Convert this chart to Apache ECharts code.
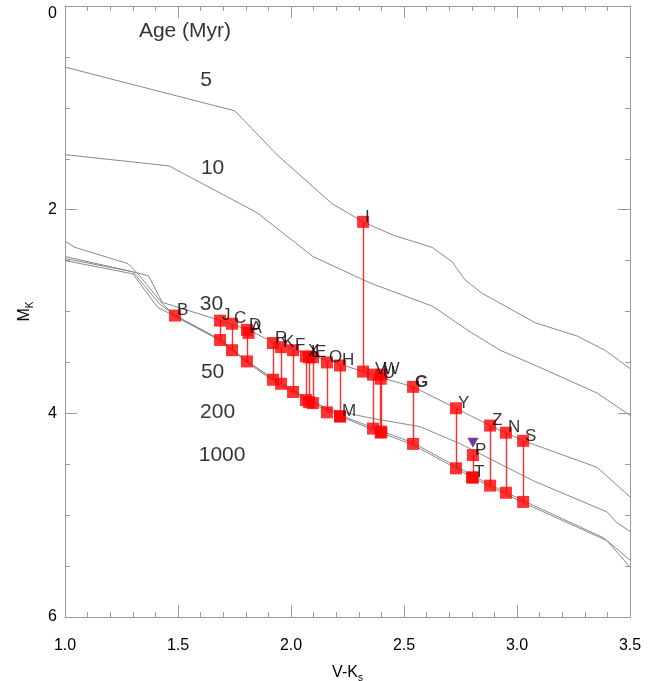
<!DOCTYPE html>
<html><head><meta charset="utf-8">
<script src="https://cdn.jsdelivr.net/npm/echarts@6/dist/echarts.min.js"></script>
<style>html,body{margin:0;padding:0;background:#fff}#c{width:658px;height:681px}</style>
</head><body><div id="c"></div>
<script>
// Isochrones (V-Ks, M_K)
const iso5 = [[1.000,0.60],[1.752,1.03],[1.938,1.46],[2.181,1.94],[2.319,2.12],[2.451,2.25],[2.624,2.37],[2.712,2.51],[2.770,2.69],[2.845,2.82],[3.080,3.11],[3.265,3.24],[3.389,3.38],[3.500,3.56]];
const iso10 = [[1.000,1.46],[1.460,1.57],[1.850,2.03],[2.097,2.46],[2.350,2.72],[2.628,2.95],[2.779,3.18],[2.925,3.38],[3.102,3.55],[3.354,3.80],[3.500,4.02]];
const iso30 = [[1.000,2.46],[1.300,2.61],[1.370,2.65],[1.430,2.91],[1.690,3.09],[1.810,3.18],[1.920,3.30],[2.100,3.44],[2.220,3.52],[2.320,3.59],[2.400,3.65],[2.540,3.74],[2.730,3.95],[2.880,4.12],[3.030,4.27],[3.354,4.53],[3.500,4.82]];
const iso50 = [[1.000,2.50],[1.300,2.63],[1.410,2.96],[1.490,3.05],[1.690,3.28],[1.800,3.48],[1.920,3.66],[2.100,3.89],[2.170,3.96],[2.360,4.05],[2.570,4.13],[2.750,4.30],[3.070,4.66],[3.400,4.97],[3.440,5.07],[3.500,5.16]];
const iso200 = [[1.000,2.48],[1.300,2.61],[1.420,2.93],[1.490,3.04],[1.690,3.28],[1.800,3.48],[1.920,3.66],[2.100,3.89],[2.220,4.02],[2.360,4.14],[2.540,4.29],[2.730,4.52],[2.880,4.70],[3.030,4.86],[3.381,5.22],[3.500,5.44]];
const iso1000 = [[1.000,2.31],[1.044,2.37],[1.279,2.53],[1.319,2.62],[1.430,2.92],[1.490,3.05],[1.690,3.29],[1.800,3.49],[1.920,3.68],[2.100,3.91],[2.220,4.03],[2.360,4.16],[2.540,4.31],[2.730,4.54],[2.880,4.72],[3.030,4.88],[3.398,5.25],[3.500,5.51]];

// Stars
const starName = ['B','J','C','D','A','R','K','F','X','L','E','O','H','I','V','W','U','G','Y','P','Z','N','S','M','T'];
const starVK   = [1.487,1.686,1.739,1.805,1.812,1.920,1.956,2.009,2.066,2.080,2.097,2.159,2.217,2.319,2.363,2.400,2.397,2.540,2.730,2.805,2.881,2.951,3.027,2.217,2.801];
const starMK   = [3.04,3.09,3.12,3.18,3.21,3.31,3.35,3.38,3.44,3.45,3.45,3.50,3.53,2.12,3.62,3.62,3.66,3.74,3.95,4.41,4.12,4.19,4.27,4.03,4.63];
const starLow  = [null,3.28,3.38,3.49,null,3.67,3.71,3.79,3.87,3.89,3.90,3.99,4.03,3.59,4.15,4.18,4.19,4.30,4.54,4.63,4.71,4.78,4.87,null,null];

// Upper-limit marker
const triVK = [2.805];
const triMK = [4.29];

// Age annotations
const ageText = ['Age (Myr)','5','10','30','50','200','1000'];
const ageVK   = [1.531,1.624,1.653,1.648,1.653,1.675,1.695];
const ageMK   = [0.246,0.732,1.596,2.931,3.599,3.992,4.41];

const xTicks = [1.0,1.5,2.0,2.5,3.0,3.5];
const yTicks = [0,2,4,6];

const FONT = 'Liberation Sans, Arial, Helvetica, sans-serif';
const AX = '#9a9a9a';
const chart = echarts.init(document.getElementById('c'));

function isoSeries(d){
  return {type:'line', data:d, symbol:'none', silent:true, z:1,
    lineStyle:{color:'#8a8a8a', width:1}};
}
const connectors = [];
starLow.forEach((l,i)=>{ if(l!==null) connectors.push({coords:[[starVK[i],starMK[i]],[starVK[i],l]]}); });
const lowPts = [];
starLow.forEach((l,i)=>{ if(l!==null) lowPts.push([starVK[i],l]); });

const xAxisBase = {type:'value', min:xTicks[0], max:xTicks[xTicks.length-1], interval:0.5,
  axisLine:{show:true,onZero:false,lineStyle:{color:AX,width:1}},
  axisTick:{show:true,inside:true,length:12,lineStyle:{color:AX}},
  minorTick:{show:true,splitNumber:5,length:5,lineStyle:{color:AX}},
  splitLine:{show:false}};
const yAxisBase = {type:'value', inverse:true, min:yTicks[0], max:yTicks[yTicks.length-1], interval:2,
  axisLine:{show:true,onZero:false,lineStyle:{color:AX,width:1}},
  axisTick:{show:true,inside:true,length:12,lineStyle:{color:AX}},
  minorTick:{show:true,splitNumber:4,length:5,lineStyle:{color:AX}},
  splitLine:{show:false}};

chart.setOption({
  animation:false,
  backgroundColor:'#fff',
  grid:{left:65,right:28,top:6,bottom:64,containLabel:false,outerBoundsMode:'none'},
  xAxis:[
    Object.assign({}, xAxisBase, {position:'bottom',
      name:'V-K{s|s}', nameLocation:'middle', nameGap:46,
      nameTextStyle:{color:'#000',fontSize:16,fontFamily:FONT,
        rich:{s:{fontSize:10,fontFamily:FONT,color:'#000',padding:[10,0,0,0]}}},
      axisLabel:{show:true,color:'#000',fontSize:16,fontFamily:FONT,margin:21,
        formatter:v=>v.toFixed(1)}}),
    Object.assign({}, xAxisBase, {position:'top', axisLabel:{show:false}})
  ],
  yAxis:[
    Object.assign({}, yAxisBase, {position:'left',
      name:'M{s|K}', nameLocation:'middle', nameGap:30, nameRotate:90,
      nameTextStyle:{color:'#000',fontSize:16,fontFamily:FONT,
        rich:{s:{fontSize:10,fontFamily:FONT,color:'#000',padding:[10,0,0,0]}}},
      axisLabel:{show:true,color:'#000',fontSize:16,fontFamily:FONT,margin:8,
        formatter:v=> v===0 ? '{t|0}' : String(v),
        rich:{t:{fontSize:16,fontFamily:FONT,color:'#000',padding:[16,0,0,0]}}}}),
    Object.assign({}, yAxisBase, {position:'right', axisLabel:{show:false}})
  ],
  series:[
    isoSeries(iso5), isoSeries(iso10), isoSeries(iso30), isoSeries(iso50), isoSeries(iso200), isoSeries(iso1000),
    {type:'lines', coordinateSystem:'cartesian2d', data:connectors, z:2, silent:true,
      lineStyle:{color:'#ff3030', width:1.4, opacity:1}},
    {type:'scatter', data:lowPts, symbol:'rect', symbolSize:12, z:3, silent:true,
      itemStyle:{color:'#ff0000'}},
    {type:'scatter', z:4, silent:true, symbol:'rect', symbolSize:12,
      data:starName.map((n,i)=>({name:n, value:[starVK[i],starMK[i]],
        label: n==='G' ? {fontWeight:'bold'} : undefined})),
      itemStyle:{color:'#ff0000'},
      label:{show:true, formatter:p=>p.name, position:'right', distance:-4, offset:[0,-5],
        color:'#000', fontSize:17, fontFamily:FONT}},
    {type:'scatter', z:5, silent:true, symbol:'triangle', symbolRotate:180, symbolSize:[11,10],
      data:triVK.map((v,i)=>[v,triMK[i]]), itemStyle:{color:'#4b0a8a'}},
    {type:'scatter', z:6, silent:true, symbolSize:0,
      data:ageText.map((t,i)=>({name:t, value:[ageVK[i],ageMK[i]]})),
      label:{show:true, formatter:p=>p.name, position:'inside', color:'#000', fontSize:21, fontFamily:FONT}}
  ]
});
</script></body></html>
